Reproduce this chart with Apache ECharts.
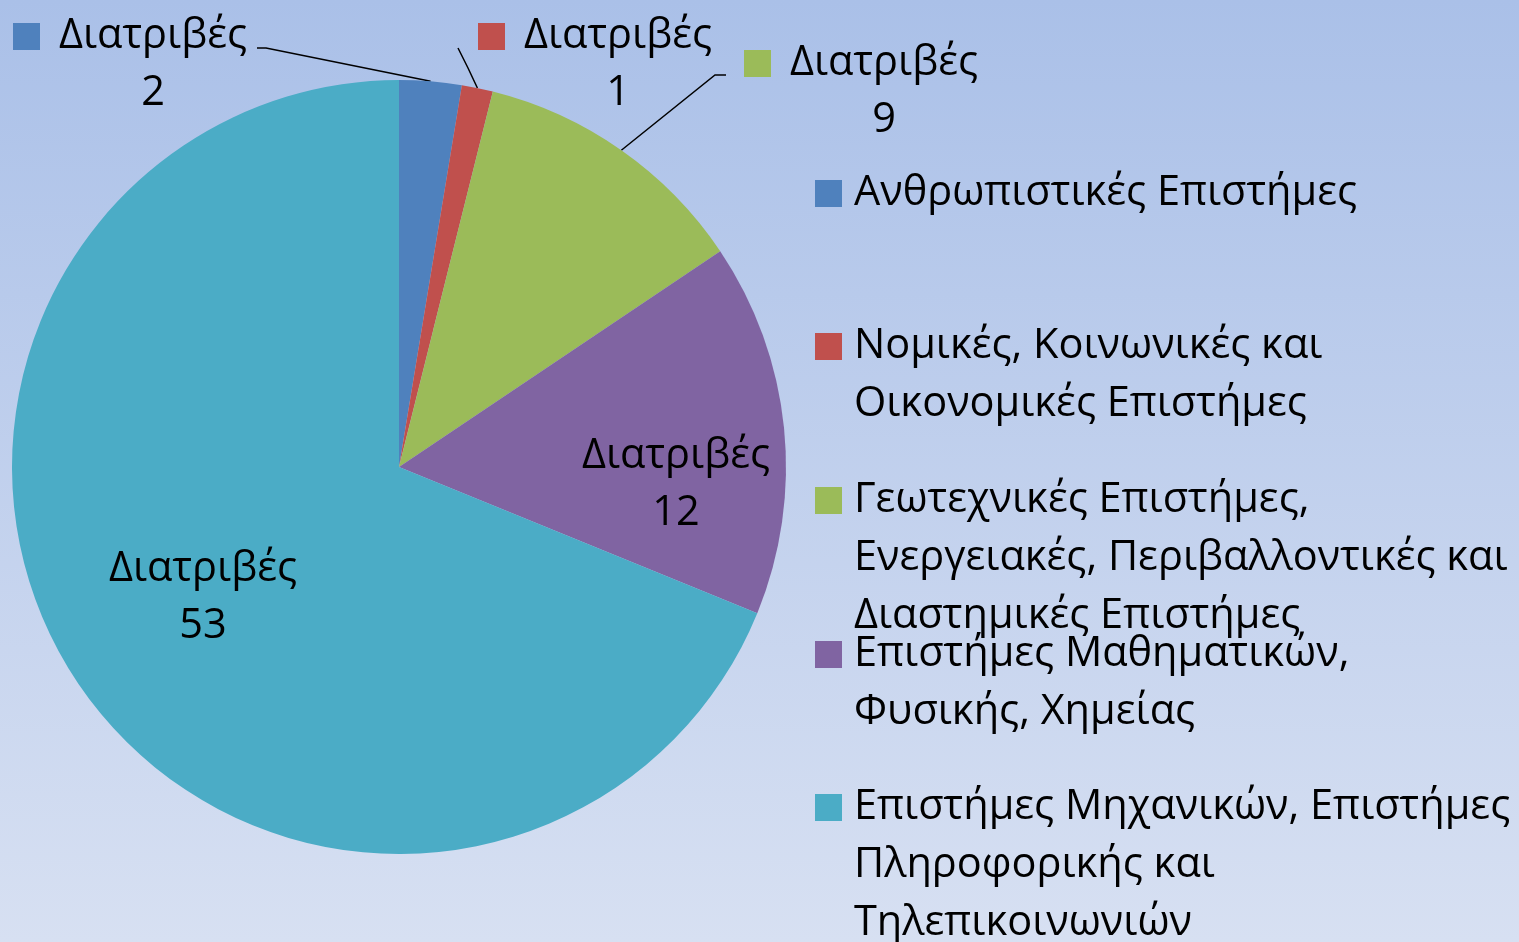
<!DOCTYPE html>
<html><head><meta charset="utf-8">
<script src="https://cdn.jsdelivr.net/npm/echarts@6/dist/echarts.min.js"></script>
<style>html,body{margin:0;padding:0;}#c{width:1519px;height:942px;}</style>
</head><body><div id="c"></div>
<script>
// ---- data ----
const categories = [
  'Ανθρωπιστικές Επιστήμες',
  'Νομικές, Κοινωνικές και Οικονομικές Επιστήμες',
  'Γεωτεχνικές Επιστήμες, Ενεργειακές, Περιβαλλοντικές και Διαστημικές Επιστήμες',
  'Επιστήμες Μαθηματικών, Φυσικής, Χημείας',
  'Επιστήμες Μηχανικών, Επιστήμες Πληροφορικής και Τηλεπικοινωνιών'
];
const legendLines = [
  ['Ανθρωπιστικές Επιστήμες'],
  ['Νομικές, Κοινωνικές και', 'Οικονομικές Επιστήμες'],
  ['Γεωτεχνικές Επιστήμες,', 'Ενεργειακές, Περιβαλλοντικές και', 'Διαστημικές Επιστήμες'],
  ['Επιστήμες Μαθηματικών,', 'Φυσικής, Χημείας'],
  ['Επιστήμες Μηχανικών, Επιστήμες', 'Πληροφορικής και', 'Τηλεπικοινωνιών']
];
const values = [2, 1, 9, 12, 53];
const labelTitle = 'Διατριβές';

// ---- styles / layout ----
const colors = ['#4f81bd', '#c0504d', '#9bbb59', '#8064a2', '#4bacc6'];
const FONT = 'Open Sans';
const FS = 41.5;
const LEG_LH = 58;
const legendIconCenters = [193.5, 346.5, 500.5, 654.5, 807.5];
const labelPlacement = [
  { x: 130, y: 65, line: [[266, 48], [257, 48]], key: true },
  { x: 595, y: 65, line: [[468, 68], [458, 48]], key: true },
  { x: 861, y: 92, line: [[715, 75], [726, 75]], key: true },
  { x: 676, y: 485 },
  { x: 203, y: 598 }
];

const seriesData = categories.map((name, i) => {
  const p = labelPlacement[i];
  const item = { name: name, value: values[i], itemStyle: { color: colors[i] } };
  const rich = {
    k: { width: 27, height: 27, backgroundColor: colors[i] },
    g: { width: 19 },
    s: { width: 46 },
    t: { fontFamily: FONT, fontSize: FS, lineHeight: 57, color: '#000' }
  };
  if (p.key) {
    item.label = { position: 'outside', rich: rich,
      formatter: (prm) => '{k|}{g|}{t|' + labelTitle + '}\n{s|}{t|' + prm.value + '}' };
  } else {
    item.label = { position: 'inside', rich: rich,
      formatter: (prm) => '{t|' + labelTitle + '}\n{t|' + prm.value + '}' };
    item.labelLine = { show: false };
  }
  return item;
});

// one legend component per entry; blank lines before the text keep the
// first text line level with the key
const legends = categories.map((n, i) => {
  const nl = legendLines[i].length;
  return {
    orient: 'vertical', left: 815,
    top: legendIconCenters[i] - (2 * nl - 1) * LEG_LH / 2,
    padding: 0, itemWidth: 27, itemHeight: 27, icon: 'rect',
    selectedMode: false,
    data: [{ name: n, itemStyle: { color: colors[i] } }],
    formatter: (name) => {
      const lines = legendLines[categories.indexOf(name)];
      return new Array(lines.length - 1).fill('').concat(lines).join('\n');
    },
    textStyle: { fontFamily: FONT, fontSize: FS, lineHeight: LEG_LH, color: '#000', padding: [0, 0, 0, 7] }
  };
});

const chart = echarts.init(document.getElementById('c'));
chart.setOption({
  animation: false,
  backgroundColor: {
    type: 'linear', x: 0, y: 0, x2: 0, y2: 1,
    colorStops: [{ offset: 0, color: '#aac0e8' }, { offset: 1, color: '#d7e0f2' }]
  },
  legend: legends,
  series: [{
    type: 'pie',
    center: [399, 467],
    radius: 387,
    startAngle: 90,
    clockwise: true,
    avoidLabelOverlap: false,
    emphasis: { disabled: true },
    label: { show: true, fontFamily: FONT, fontSize: FS, color: '#000' },
    labelLine: { show: true, length: 20, length2: 10, lineStyle: { color: '#000', width: 1.5 } },
    labelLayout: function (params) {
      const p = labelPlacement[params.dataIndex];
      const res = { x: p.x, y: p.y, align: 'center', verticalAlign: 'middle' };
      if (p.line && params.labelLinePoints) {
        res.labelLinePoints = [params.labelLinePoints[0]].concat(p.line);
      }
      return res;
    },
    data: seriesData
  }]
});
</script>
</body></html>
